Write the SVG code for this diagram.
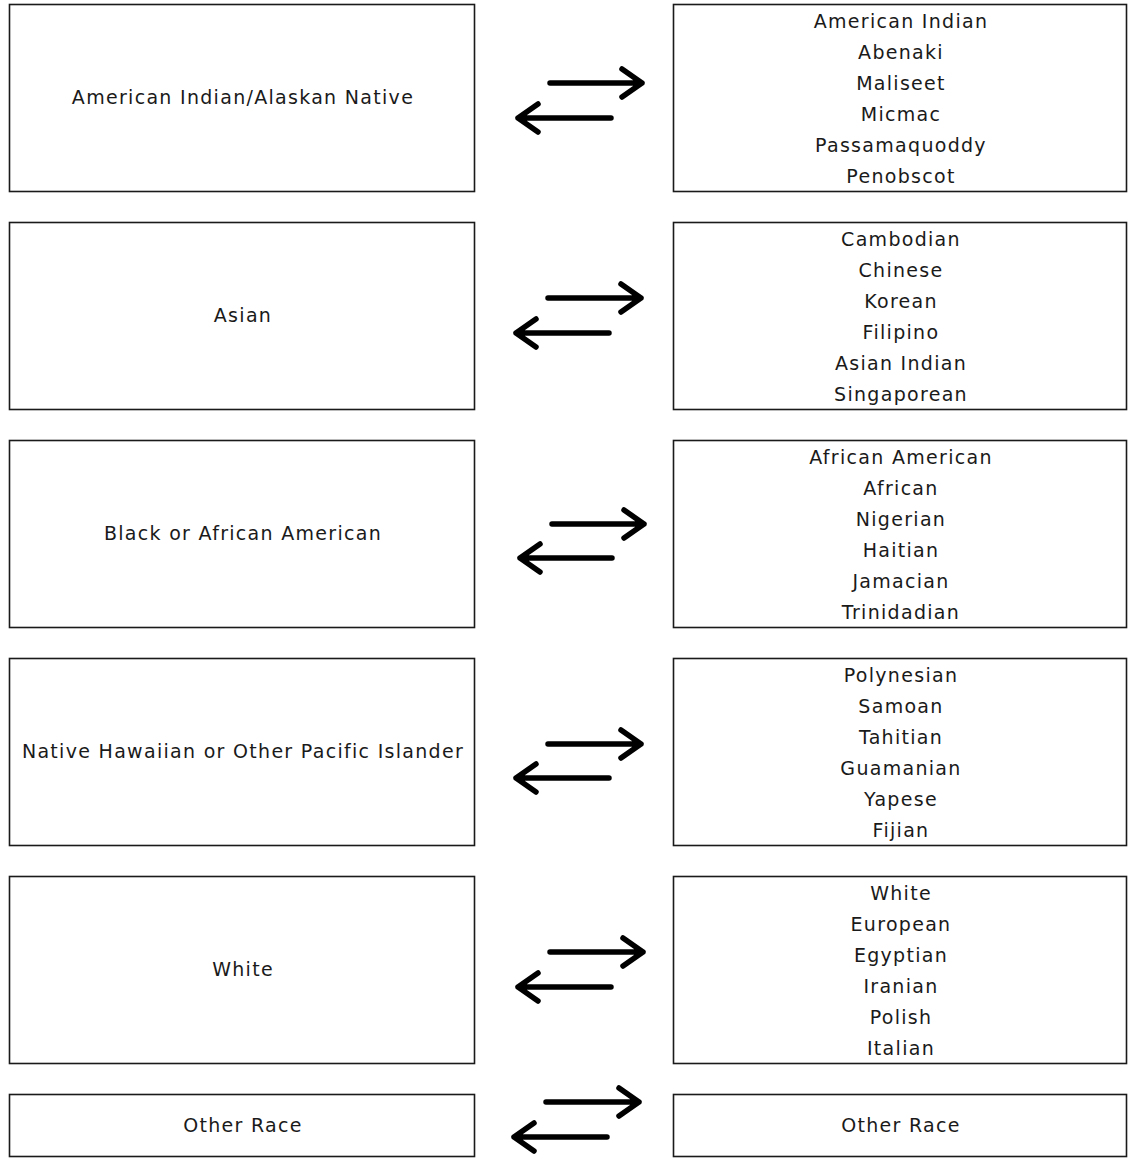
<svg xmlns="http://www.w3.org/2000/svg" width="1128" height="1161" viewBox="0 0 1128 1161">
<style>
.box{fill:#fff;stroke:#1a1a1a;stroke-width:1.6}
text{font-family:"DejaVu Sans","Liberation Sans",sans-serif;font-size:19px;letter-spacing:1.3px;fill:#1a1a1a;text-anchor:middle;dominant-baseline:central}
.arr{fill:none;stroke:#000;stroke-width:5.5;stroke-linecap:round;stroke-linejoin:round}
</style>
<rect width="1128" height="1161" fill="#fff"/>
<g id="n-left-1"><rect class="box" x="9.5" y="4.5" width="465" height="187"/><text x="243" y="97">American Indian/Alaskan Native</text></g>
<g id="n-right-1"><rect class="box" x="673.5" y="4.5" width="453" height="187"/>
<text x="901" y="21">American Indian</text><text x="901" y="52">Abenaki</text><text x="901" y="83">Maliseet</text><text x="901" y="114">Micmac</text><text x="901" y="145">Passamaquoddy</text><text x="901" y="176">Penobscot</text></g>
<g id="n-left-2"><rect class="box" x="9.5" y="222.5" width="465" height="187"/><text x="243" y="315">Asian</text></g>
<g id="n-right-2"><rect class="box" x="673.5" y="222.5" width="453" height="187"/>
<text x="901" y="239">Cambodian</text><text x="901" y="270">Chinese</text><text x="901" y="301">Korean</text><text x="901" y="332">Filipino</text><text x="901" y="363">Asian Indian</text><text x="901" y="394">Singaporean</text></g>
<g id="n-left-3"><rect class="box" x="9.5" y="440.5" width="465" height="187"/><text x="243" y="533">Black or African American</text></g>
<g id="n-right-3"><rect class="box" x="673.5" y="440.5" width="453" height="187"/>
<text x="901" y="457">African American</text><text x="901" y="488">African</text><text x="901" y="519">Nigerian</text><text x="901" y="550">Haitian</text><text x="901" y="581">Jamacian</text><text x="901" y="612">Trinidadian</text></g>
<g id="n-left-4"><rect class="box" x="9.5" y="658.5" width="465" height="187"/><text x="243" y="751">Native Hawaiian or Other Pacific Islander</text></g>
<g id="n-right-4"><rect class="box" x="673.5" y="658.5" width="453" height="187"/>
<text x="901" y="675">Polynesian</text><text x="901" y="706">Samoan</text><text x="901" y="737">Tahitian</text><text x="901" y="768">Guamanian</text><text x="901" y="799">Yapese</text><text x="901" y="830">Fijian</text></g>
<g id="n-left-5"><rect class="box" x="9.5" y="876.5" width="465" height="187"/><text x="243" y="969">White</text></g>
<g id="n-right-5"><rect class="box" x="673.5" y="876.5" width="453" height="187"/>
<text x="901" y="893">White</text><text x="901" y="924">European</text><text x="901" y="955">Egyptian</text><text x="901" y="986">Iranian</text><text x="901" y="1017">Polish</text><text x="901" y="1048">Italian</text></g>
<g id="n-left-6"><rect class="box" x="9.5" y="1094.5" width="465" height="62"/><text x="243" y="1125">Other Race</text></g>
<g id="n-right-6"><rect class="box" x="673.5" y="1094.5" width="453" height="62"/><text x="901" y="1125">Other Race</text></g>
<g id="connectors">
<path class="arr" d="M550 83H642M622 69L642 83L622 97"/>
<path class="arr" d="M611 118H518M538 104L518 118L538 132"/>
<path class="arr" d="M548 298H641M621 284L641 298L621 312"/>
<path class="arr" d="M609 333H516M536 319L516 333L536 347"/>
<path class="arr" d="M552 524H644M624 510L644 524L624 538"/>
<path class="arr" d="M612 558H520M540 544L520 558L540 572"/>
<path class="arr" d="M548 744H641M621 730L641 744L621 758"/>
<path class="arr" d="M609 778H516M536 764L516 778L536 792"/>
<path class="arr" d="M550 952H643M623 938L643 952L623 966"/>
<path class="arr" d="M611 987H518M538 973L518 987L538 1001"/>
<path class="arr" d="M546 1102H639M619 1088L639 1102L619 1116"/>
<path class="arr" d="M607 1137H514M534 1123L514 1137L534 1151"/>
</g>
</svg>
